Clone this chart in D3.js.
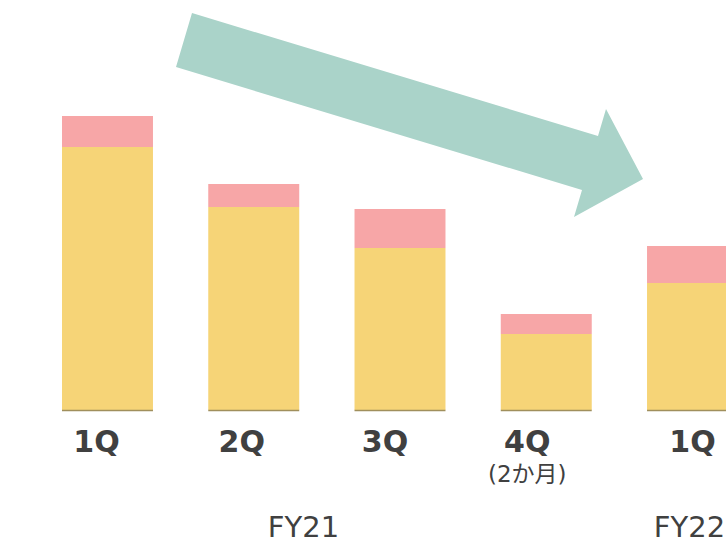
<!DOCTYPE html>
<html>
<head>
<meta charset="utf-8">
<script src="https://cdn.jsdelivr.net/npm/d3@7"></script>
<style>
  html, body { margin: 0; padding: 0; background: #fff; }
  text { font-family: "DejaVu Sans", "Noto Sans CJK JP", sans-serif; }
</style>
</head>
<body>
<div id="chart"></div>
<script>
// data
var quarters = ['1Q', '2Q', '3Q', '4Q', '1Q '];
var quarterLabels = ['1Q', '2Q', '3Q', '4Q', '1Q'];
var quarterNotes = ['', '', '', '(2か月)', ''];
var baseValues = [263, 203, 162, 76, 127];   // yellow part
var topValues = [31, 23, 39, 20, 37];        // pink part
var fiscalYears = ['FY21', 'FY22'];

var width = 726, height = 540;
var colors = { base: '#f6d477', top: '#f7a6a7', arrow: '#aad3c9', text: '#404040', edge: '#a08f5c' };

var svg = d3.select('#chart')
  .append('svg')
  .attr('width', width)
  .attr('height', height);

var x = d3.scaleBand()
  .domain(quarters)
  .range([62, 738])
  .paddingInner(0.378)
  .paddingOuter(0);

var y = d3.scaleLinear()
  .domain([0, 300])
  .range([410, 110]);

// trend arrow
var arrowPts = [[192, 13], [598, 136], [606, 109], [643, 179], [574, 217], [582, 190], [176, 67]];
svg.append('path')
  .attr('d', d3.line()(arrowPts) + 'Z')
  .attr('fill', colors.arrow);

var stackData = quarters.map(function (q, i) {
  return { q: q, base: baseValues[i], top: topValues[i] };
});
var series = d3.stack().keys(['base', 'top'])(stackData);

svg.selectAll('g.series')
  .data(series)
  .enter()
  .append('g')
  .attr('class', 'series')
  .attr('fill', function (d) { return colors[d.key]; })
  .selectAll('rect')
  .data(function (d) { return d; })
  .enter()
  .append('rect')
  .attr('x', function (d) { return x(d.data.q); })
  .attr('y', function (d) { return y(d[1]); })
  .attr('width', x.bandwidth())
  .attr('height', function (d) { return y(d[0]) - y(d[1]); });

// bottom edge of each bar
svg.selectAll('line.edge')
  .data(quarters)
  .enter()
  .append('line')
  .attr('class', 'edge')
  .attr('x1', function (d) { return x(d); })
  .attr('x2', function (d) { return x(d) + x.bandwidth(); })
  .attr('y1', y(0) + 0.5)
  .attr('y2', y(0) + 0.5)
  .attr('stroke', colors.edge)
  .attr('stroke-width', 1.5);

// quarter labels
var labelDx = [-11, -12, -15, -19, 0];
svg.selectAll('text.q')
  .data(quarters)
  .enter()
  .append('text')
  .attr('class', 'q')
  .attr('x', function (d, i) { return x(d) + x.bandwidth() / 2 + labelDx[i]; })
  .attr('y', 452)
  .attr('text-anchor', 'middle')
  .attr('font-size', 30)
  .attr('font-weight', 'bold')
  .attr('fill', colors.text)
  .text(function (d, i) { return quarterLabels[i]; });

svg.selectAll('text.note')
  .data(quarters)
  .enter()
  .append('text')
  .attr('class', 'note')
  .attr('x', function (d, i) { return x(d) + x.bandwidth() / 2 + labelDx[i]; })
  .attr('y', 482)
  .attr('text-anchor', 'middle')
  .attr('font-size', 23)
  .attr('fill', colors.text)
  .text(function (d, i) { return quarterNotes[i]; });

// fiscal year labels
var fyX = [303.5, 689.5];
svg.selectAll('text.fy')
  .data(fiscalYears)
  .enter()
  .append('text')
  .attr('class', 'fy')
  .attr('x', function (d, i) { return fyX[i]; })
  .attr('y', 537)
  .attr('text-anchor', 'middle')
  .attr('font-size', 29)
  .attr('fill', colors.text)
  .text(function (d) { return d; });
</script>
</body>
</html>
